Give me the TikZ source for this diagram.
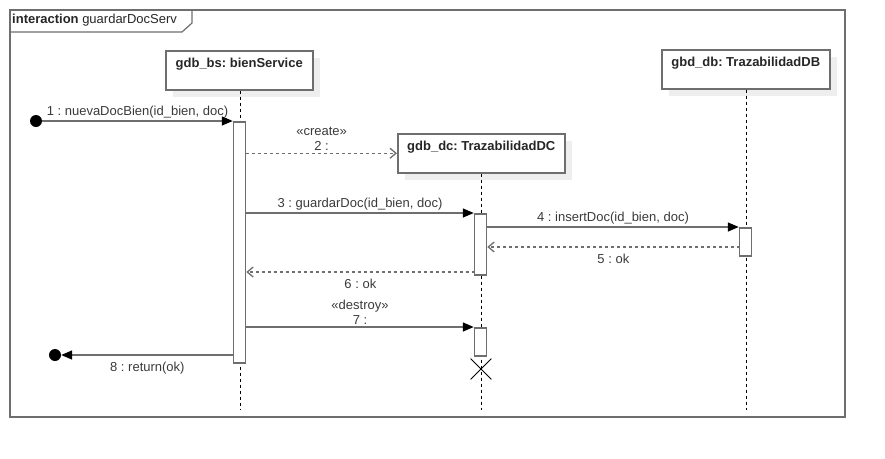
\documentclass[tikz,border=0pt]{standalone}
\usepackage{fontspec}
\setmainfont{Liberation Sans}
\usetikzlibrary{arrows.meta,shapes.misc,shadows}
\definecolor{umlline}{HTML}{6E6E6E}
\definecolor{umltext}{HTML}{3A3A3A}
\definecolor{umlshadow}{HTML}{EEEEEE}
\tikzset{
  head/.style={draw=umlline, line width=1.5pt, fill=white, anchor=north west,
    inner sep=0pt, text height=16.5pt, text depth=22.5pt, font=\bfseries,
    text=black!85, general shadow={shadow xshift=7pt, shadow yshift=-7pt, fill=umlshadow}},
  lifeline/.style={black, line width=0.8pt, dash pattern=on 3pt off 3pt},
  act/.style={draw=umlline, line width=1.5pt, fill=white, anchor=north, minimum width=12pt, inner sep=0pt},
  msg/.style={umlline, line width=1.5pt, -{Triangle[length=11pt, width=9pt, fill=black, color=black]}},
  reply/.style={umlline, line width=1.3pt, dash pattern=on 3pt off 3pt, -{Straight Barb[length=6pt, width=10pt]}},
  lbl/.style={text=umltext, align=center, inner sep=2pt},
  blob/.style={circle, fill=black, minimum size=12pt, inner sep=0pt},
}
\begin{document}
\frenchspacing
\fontsize{13}{15}\selectfont
\begin{tikzpicture}[x=1pt, y=-1pt]
    \useasboundingbox (0,0) rectangle (885,458);
    % frame
    \draw[umlline, line width=1.5pt] (10,10) rectangle (845,417);
    \draw[umlline, line width=1.2pt] (10,32) -- (182,32) -- (192,23) -- (192,10);
    \node[anchor=west, inner sep=0pt, text=black!85] (title) at (12,20) {\textbf{interaction} guardarDocServ};

    % lifeline heads
    \node[head, minimum width=147pt] (bs) at (165,50) {gdb\_bs: bienService};
    \node[head, minimum width=167pt] (dc) at (397,133) {gdb\_dc: TrazabilidadDC};
    \node[head, minimum width=168pt] (db) at (661,49) {gbd\_db: TrazabilidadDB};
    \coordinate (bsend) at (240,410);
    \coordinate (dcend) at (481,410);
    \coordinate (dbend) at (746,410);
    \draw[lifeline] (bs.south -| bsend) -- (bsend);
    \draw[lifeline] (dc.south -| dcend) -- (dcend);
    \draw[lifeline] (db.south -| dbend) -- (dbend);

    % activations
    \node[act, minimum height=241pt] (a1) at (239.5,121) {};
    \node[act, minimum height=61pt] (a2) at (480.5,213) {};
    \node[act, minimum height=28pt] (a3) at (745.5,227) {};
    \node[act, minimum height=28pt] (a4) at (480.5,327) {};
    \node[cross out, draw=black, line width=0.8pt, minimum size=20pt, inner sep=0pt] (kill) at (481,369) {};

    % messages
    \node[blob] (found) at (36,121) {};
    \node[blob] (lost) at (55,355) {};
    \draw[msg] (found) -- (a1.north west) node[lbl, midway, above] {1 : nuevaDocBien(id\_bien, doc)};
    \draw[reply] (a1.east |- dc.west) -- (dc.west) node[lbl, midway, above] {«create»\\2 :};
    \draw[msg] (a1.east |- a2.north) -- (a2.north west) node[lbl, midway, above] {3 : guardarDoc(id\_bien, doc)};
    \draw[msg] (a2.east |- a3.north) -- (a3.north west) node[lbl, midway, above] {4 : insertDoc(id\_bien, doc)};
    \coordinate (r5) at (739.5,247);
    \draw[reply] (r5) -- (a2.east |- r5) node[lbl, midway, below=4pt] {5 : ok};
    \coordinate (r6) at (474.5,272);
    \draw[reply] (r6) -- (a1.east |- r6) node[lbl, midway, below=4pt] {6 : ok};
    \draw[msg] (a1.east |- a4.north) -- (a4.north west) node[lbl, midway, above] {«destroy»\\7 :};
    \coordinate (r8) at (233.5,355);
    \draw[msg] (r8) -- (lost) node[lbl, midway, below=4pt] {8 : return(ok)};
\end{tikzpicture}
\end{document}
